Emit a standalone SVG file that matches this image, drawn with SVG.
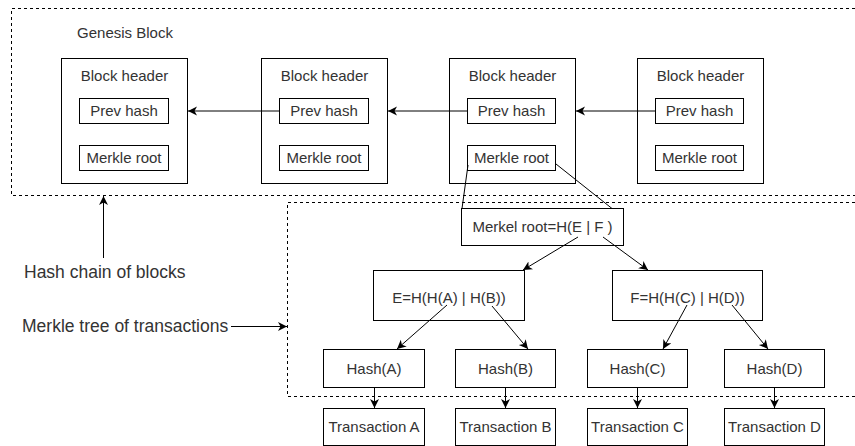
<svg xmlns="http://www.w3.org/2000/svg" width="855" height="446" viewBox="0 0 855 446">
<style>
.box{fill:#fff;stroke:#000;stroke-width:1}
.dash{fill:none;stroke:#000;stroke-width:1;stroke-dasharray:3 3}
.t{font-family:"Liberation Sans",Arial,sans-serif;font-size:15px;fill:#333;text-anchor:middle}
.tl{font-family:"Liberation Sans",Arial,sans-serif;font-size:17.5px;fill:#333}
.c{fill:none;stroke:#000;stroke-width:1}
</style>
<defs>
<marker id="ah" markerUnits="userSpaceOnUse" markerWidth="10" markerHeight="10" refX="9" refY="4.5" orient="auto">
<path d="M0,0 L9,4.5 L0,9 L2.5,4.5 Z" fill="#000"/>
</marker>
</defs>
<rect width="855" height="446" fill="#fff"/>
<g id="chain-frame"><path class="dash" d="M855,8.5 H11.5 V195.5 H855"/></g>
<g id="tree-frame"><path class="dash" d="M855,202.5 H287.5 V396.5 H855"/></g>
<g id="genesis-label"><text class="t" x="125" y="38">Genesis Block</text></g>

<g id="block1">
<rect class="box" x="61.5" y="58.5" width="126" height="125"/>
<text class="t" x="124.5" y="81">Block header</text>
<rect class="box" x="79.5" y="98.5" width="89" height="25"/>
<text class="t" x="124" y="116">Prev hash</text>
<rect class="box" x="79.5" y="145.5" width="89" height="25"/>
<text class="t" x="124" y="163">Merkle root</text>
</g>
<g id="block2">
<rect class="box" x="261.5" y="58.5" width="126" height="125"/>
<text class="t" x="324.5" y="81">Block header</text>
<rect class="box" x="279.5" y="98.5" width="89" height="25"/>
<text class="t" x="324" y="116">Prev hash</text>
<rect class="box" x="279.5" y="145.5" width="89" height="25"/>
<text class="t" x="324" y="163">Merkle root</text>
</g>
<g id="block3">
<rect class="box" x="449.5" y="58.5" width="126" height="125"/>
<text class="t" x="512.5" y="81">Block header</text>
<rect class="box" x="467.5" y="98.5" width="88" height="25"/>
<text class="t" x="511.5" y="116">Prev hash</text>
<rect class="box" x="467.5" y="145.5" width="88" height="25"/>
<text class="t" x="511.5" y="163">Merkle root</text>
</g>
<g id="block4">
<rect class="box" x="637.5" y="58.5" width="126" height="125"/>
<text class="t" x="700.5" y="81">Block header</text>
<rect class="box" x="655.5" y="98.5" width="88" height="25"/>
<text class="t" x="699.5" y="116">Prev hash</text>
<rect class="box" x="655.5" y="145.5" width="88" height="25"/>
<text class="t" x="699.5" y="163">Merkle root</text>
</g>

<g id="hash-chain-label"><text class="tl" x="24" y="278">Hash chain of blocks</text></g>
<g id="merkle-tree-label"><text class="tl" x="22" y="332">Merkle tree of transactions</text></g>

<g id="merkel-root">
<rect class="box" x="461.5" y="208.5" width="162" height="37"/>
<text class="t" x="542.5" y="232">Merkel root=H(E | F )</text>
</g>
<g id="node-E">
<rect class="box" x="373.5" y="270.5" width="151" height="50"/>
<text class="t" x="449" y="303">E=H(H(A) | H(B))</text>
</g>
<g id="node-F">
<rect class="box" x="612.5" y="270.5" width="150" height="50"/>
<text class="t" x="687.5" y="303">F=H(H(C) | H(D))</text>
</g>
<g id="hashA"><rect class="box" x="323.5" y="349.5" width="101" height="38"/><text class="t" x="374" y="374">Hash(A)</text></g>
<g id="hashB"><rect class="box" x="455.5" y="349.5" width="100" height="38"/><text class="t" x="505.5" y="374">Hash(B)</text></g>
<g id="hashC"><rect class="box" x="587.5" y="349.5" width="100" height="38"/><text class="t" x="637.5" y="374">Hash(C)</text></g>
<g id="hashD"><rect class="box" x="724.5" y="349.5" width="100" height="38"/><text class="t" x="774.5" y="374">Hash(D)</text></g>
<g id="txA"><rect class="box" x="323.5" y="408.5" width="101" height="37"/><text class="t" x="374" y="432">Transaction A</text></g>
<g id="txB"><rect class="box" x="455.5" y="408.5" width="100" height="37"/><text class="t" x="505.5" y="432">Transaction B</text></g>
<g id="txC"><rect class="box" x="587.5" y="408.5" width="100" height="37"/><text class="t" x="637.5" y="432">Transaction C</text></g>
<g id="txD"><rect class="box" x="724.5" y="408.5" width="100" height="37"/><text class="t" x="774.5" y="432">Transaction D</text></g>

<g id="connectors">
<path class="c" d="M279.5,111 H188" marker-end="url(#ah)"/>
<path class="c" d="M467.5,111 H388" marker-end="url(#ah)"/>
<path class="c" d="M655.5,111 H576" marker-end="url(#ah)"/>
<path class="c" d="M103.5,258 V196" marker-end="url(#ah)"/>
<path class="c" d="M231,326.5 H287" marker-end="url(#ah)"/>
<path class="c" d="M468,165 L462,208.5"/>
<path class="c" d="M556,164 L612,208.5"/>
<path class="c" d="M578,237 L523,270" marker-end="url(#ah)"/>
<path class="c" d="M603,237 L648,270" marker-end="url(#ah)"/>
<path class="c" d="M447,305 L397,349" marker-end="url(#ah)"/>
<path class="c" d="M492,306 L528,349" marker-end="url(#ah)"/>
<path class="c" d="M687,305 L663,349" marker-end="url(#ah)"/>
<path class="c" d="M732,305 L768,349" marker-end="url(#ah)"/>
<path class="c" d="M374.5,388 V408" marker-end="url(#ah)"/>
<path class="c" d="M505.5,388 V408" marker-end="url(#ah)"/>
<path class="c" d="M637.5,388 V408" marker-end="url(#ah)"/>
<path class="c" d="M774.5,388 V408" marker-end="url(#ah)"/>
</g>
</svg>
